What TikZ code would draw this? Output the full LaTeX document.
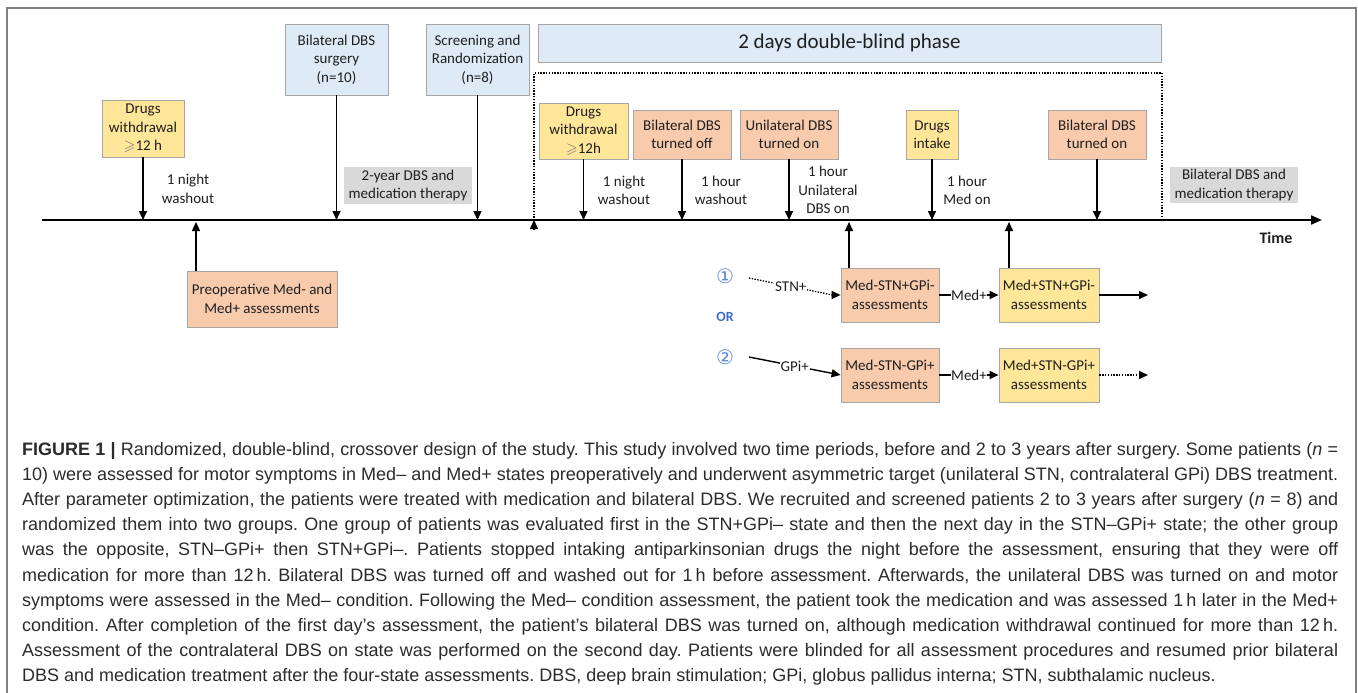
\documentclass[tikz,border=0pt]{standalone}
\usepackage{fontspec}
\usepackage{amssymb}
\setmainfont{Carlito}
\newfontfamily\capfont{Liberation Sans}
\newfontfamily\symfont{DejaVu Sans}
\usetikzlibrary{arrows.meta}
\definecolor{boxyellow}{HTML}{FFE699}
\definecolor{boxorange}{HTML}{F8CBAD}
\definecolor{boxblue}{HTML}{DEEBF7}
\definecolor{boxgray}{HTML}{D9D9D9}
\definecolor{boxline}{HTML}{A6A6A6}
\definecolor{framegray}{HTML}{808080}
\definecolor{orblue}{HTML}{3C6CC8}
\definecolor{circblue}{HTML}{5B8BD9}
\definecolor{captext}{HTML}{2B2B2B}
\newcommand{\geqsym}{{\color{black!55}$\geqslant$}}
\frenchspacing
\begin{document}
\begin{tikzpicture}[x=1pt,y=-1pt,
  every node/.style={font=\fontsize{15}{18.5}\selectfont, inner sep=0pt, text=black!88},
  box/.style={draw=boxline, line width=0.8pt, align=center},
  ybox/.style={box, fill=boxyellow},
  obox/.style={box, fill=boxorange},
  bbox/.style={box, fill=boxblue},
  gbox/.style={fill=boxgray, align=center},
  note/.style={align=center},
  arr/.style={line width=1.4pt, -{Triangle[length=9pt,width=8pt]}},
  dots/.style={line width=1.3pt, dash pattern=on 1.4pt off 1.4pt},
  lbl/.style={fill=white, inner sep=1pt, font=\fontsize{15}{15}\selectfont}
]
\useasboundingbox (0,0) rectangle (1358,693);
% outer frame
\coordinate (fbl) at (7,693);
\coordinate (ftl) at (7,8);
\coordinate (ftr) at (1356,8);
\coordinate (fbr) at (1356,693);
\draw[framegray, line width=1.2pt] (fbl) -- (ftl) -- (ftr) -- (fbr);

% timeline
\coordinate (tl0) at (42,220);
\coordinate (tl1) at (1322,220);
\draw[line width=1.8pt, -{Triangle[length=11pt,width=9pt]}] (tl0) -- (tl1);
\node[font=\bfseries\fontsize{16}{16}\selectfont] (time) at (1276,238) {Time};

% top boxes
\node[ybox, minimum width=82, minimum height=57] (dw1) at (143,128.5) {Drugs\\withdrawal\\\geqsym12 h};
\node[bbox, minimum width=103, minimum height=71] (surg) at (336.5,59.5) {Bilateral DBS\\surgery\\(n=10)};
\node[bbox, minimum width=103, minimum height=71] (scr) at (477.5,59.5) {Screening and\\Randomization\\(n=8)};
\node[bbox, minimum width=623, minimum height=38, font=\fontsize{21}{21}\selectfont] (phase) at (849.5,43) {2 days double-blind phase};
\node[ybox, minimum width=89, minimum height=56] (dw2) at (583.5,131) {Drugs\\withdrawal\\\geqsym12h};
\node[obox, minimum width=98, minimum height=49] (off) at (682,134.5) {Bilateral DBS\\turned off};
\node[obox, minimum width=98, minimum height=49] (uni) at (789,134.5) {Unilateral DBS\\turned on};
\node[ybox, minimum width=52, minimum height=49] (intake) at (932,134.5) {Drugs\\intake};
\node[obox, minimum width=98, minimum height=49] (bion) at (1097,134.5) {Bilateral DBS\\turned on};

% gray period labels
\node[gbox, minimum width=128, minimum height=37] (g1) at (408,185.5) {2-year DBS and\\medication therapy};
\node[gbox, minimum width=128, minimum height=36] (g2) at (1234,185) {Bilateral DBS and\\medication therapy};

% interval notes
\node[note] (n1) at (188,189) {1 night\\washout};
\node[note] (n2) at (624,190.5) {1 night\\washout};
\node[note] (n3) at (721,190.5) {1 hour\\washout};
\node[note] (n4) at (828,190) {1 hour\\Unilateral\\DBS on};
\node[note] (n5) at (967,190.5) {1 hour\\Med on};

% down arrows
\foreach \b in {dw1,surg,scr,dw2,off,uni,intake,bion}
  \draw[arr] (\b.south) -- (\b.south |- tl0);

% dotted phase frame
\coordinate (dfr) at (1162,220);
\coordinate (dftr) at (1162,73);
\coordinate (dftl) at (534,73);
\coordinate (dfl) at (534,220);
\draw[dots] (dfr) -- (dftr) -- (dftl) -- (dfl);
\draw[line width=1.3pt, -{Triangle[length=9pt,width=8pt]}] ([yshift=-10pt]dfl) -- (dfl);

% preoperative
\node[obox, minimum width=150, minimum height=56] (pre) at (262,299) {Preoperative Med- and\\Med+ assessments};
\coordinate (preup) at (196,222);
\draw[arr] (pre.north -| preup) -- (preup);

% crossover arms
\node[obox, minimum width=98, minimum height=54] (m1) at (890,295) {Med-STN+GPi-\\assessments};
\node[ybox, minimum width=100, minimum height=54] (m2) at (1049,295) {Med+STN+GPi-\\assessments};
\node[obox, minimum width=98, minimum height=54] (m3) at (890,375) {Med-STN-GPi+\\assessments};
\node[ybox, minimum width=100, minimum height=54] (m4) at (1049,375) {Med+STN-GPi+\\assessments};

\coordinate (m1up) at (849,222);
\coordinate (m2up) at (1009,222);
\draw[arr] (m1.north -| m1up) -- (m1up);
\draw[arr] (m2.north -| m2up) -- (m2up);

\node[text=circblue, font=\symfont\fontsize{20}{20}\selectfont] (c1) at (725,276) {①};
\node[text=orblue, font=\bfseries\fontsize{14}{14}\selectfont] (or) at (725,317) {OR};
\node[text=circblue, font=\symfont\fontsize{20}{20}\selectfont] (c2) at (725,357) {②};

\coordinate (s1) at (749,278);
\coordinate (s2) at (749,357);
\draw[dots] (s1) -- node[lbl] (stn) {STN+} ([xshift=-8pt]m1.west);
\draw[line width=1.3pt, -{Triangle[length=9pt,width=8pt]}] ([xshift=-9pt]m1.west) -- (m1.west);
\draw[arr] (s2) -- node[lbl] (gpi) {GPi+} (m3.west);

\draw[arr] (m1) -- node[lbl, inner sep=0.5pt] (med1) {Med+} (m2);
\draw[arr] (m3) -- node[lbl, inner sep=0.5pt] (med2) {Med+} (m4);

\coordinate (o1) at (1148,295);
\coordinate (o2) at (1148,375);
\draw[arr] (m2) -- (o1);
\draw[dots] (m4.east) -- ([xshift=-8pt]o2);
\draw[line width=1.3pt, -{Triangle[length=9pt,width=8pt]}] ([xshift=-9pt]o2) -- (o2);

% caption
\node[anchor=base west, text=captext, font=\capfont] (caption) at (22,455) {\parbox[t]{1316pt}{\capfont\fontsize{18}{25.2}\selectfont\frenchspacing%
\hbox to 1316pt{\textbf{FIGURE 1 |} Randomized, double-blind, crossover design of the study. This study involved two time periods, before and 2 to 3 years after surgery. Some patients (\textit{n} =}
\hbox to 1316pt{10) were assessed for motor symptoms in Med– and Med+ states preoperatively and underwent asymmetric target (unilateral STN, contralateral GPi) DBS treatment.}
\hbox to 1316pt{After parameter optimization, the patients were treated with medication and bilateral DBS. We recruited and screened patients 2 to 3 years after surgery (\textit{n} = 8) and}
\hbox to 1316pt{randomized them into two groups. One group of patients was evaluated first in the STN+GPi– state and then the next day in the STN–GPi+ state; the other group}
\hbox to 1316pt{was the opposite, STN–GPi+ then STN+GPi–. Patients stopped intaking antiparkinsonian drugs the night before the assessment, ensuring that they were off}
\hbox to 1316pt{medication for more than 12\,h. Bilateral DBS was turned off and washed out for 1\,h before assessment. Afterwards, the unilateral DBS was turned on and motor}
\hbox to 1316pt{symptoms were assessed in the Med– condition. Following the Med– condition assessment, the patient took the medication and was assessed 1\,h later in the Med+}
\hbox to 1316pt{condition. After completion of the first day’s assessment, the patient’s bilateral DBS was turned on, although medication withdrawal continued for more than 12\,h.}
\hbox to 1316pt{Assessment of the contralateral DBS on state was performed on the second day. Patients were blinded for all assessment procedures and resumed prior bilateral}
\hbox{DBS and medication treatment after the four-state assessments. DBS, deep brain stimulation; GPi, globus pallidus interna; STN, subthalamic nucleus.}}};
\end{tikzpicture}
\end{document}
